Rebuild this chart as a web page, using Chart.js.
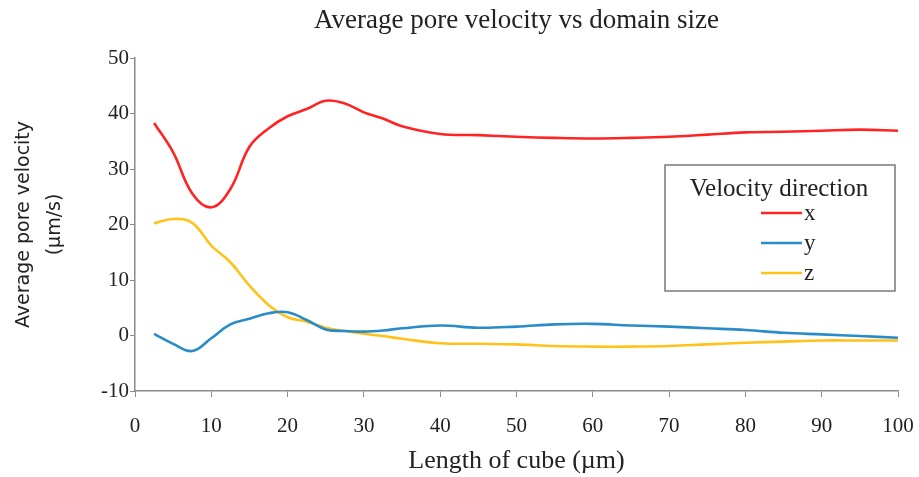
<!DOCTYPE html>
<html>
<head>
<meta charset="utf-8">
<script src="https://cdn.jsdelivr.net/npm/chart.js@4.4.1/dist/chart.umd.min.js"></script>
<style>
    html, body { margin: 0; background: #fff; }
    #wrap { width: 919px; height: 477px; }
</style>
</head>
<body>
<div id="wrap"><canvas id="poreChart"></canvas></div>
<script>
// cube length (µm) and average pore velocity (µm/s) per direction
const cubeLength = [2.5, 5, 7.5, 10, 12.5, 15, 17.5, 20, 22.5, 25, 27.5, 30, 32.5, 35, 40, 45, 50, 55, 60, 65, 70, 75, 80, 85, 90, 95, 100];
const velX = [38.3, 33, 25.6, 23.1, 26.4, 34, 37.3, 39.5, 40.8, 42.3, 41.8, 40.2, 39.1, 37.7, 36.3, 36.1, 35.8, 35.6, 35.5, 35.6, 35.8, 36.2, 36.6, 36.7, 36.9, 37.1, 36.9];
const velY = [0.3, -1.5, -2.8, -0.5, 2, 3, 4, 4.2, 2.8, 1.1, 0.8, 0.7, 0.9, 1.3, 1.8, 1.4, 1.6, 2, 2.1, 1.8, 1.6, 1.3, 1, 0.5, 0.2, -0.1, -0.4];
const velZ = [20.2, 21, 20.3, 16.2, 13.2, 9, 5.5, 3.3, 2.5, 1.4, 0.8, 0.3, -0.1, -0.6, -1.4, -1.5, -1.6, -1.9, -2, -2, -1.9, -1.6, -1.3, -1.1, -0.9, -0.9, -0.9];
const seriesNames = ['x', 'y', 'z'];
const seriesColors = ['#ff2424', '#2a8bc9', '#ffc21a'];

const serif = "'Liberation Serif', 'DejaVu Serif', serif";
const sans = "'DejaVu Sans', 'Open Sans', sans-serif";

function toPoints(vals) {
    return vals.map((v, i) => ({ x: cubeLength[i], y: v }));
}

// boxed legend inside the plot, like the original
const boxLegend = {
    id: 'boxLegend',
    afterDatasetsDraw(chart) {
        const { ctx, chartArea } = chart;
        const left = chartArea.right - 233, top = chartArea.top + 107;
        const w = 230, h = 126;
        ctx.save();
        ctx.fillStyle = '#fff';
        ctx.fillRect(left, top, w, h);
        ctx.strokeStyle = '#7a7a7a';
        ctx.lineWidth = 1.5;
        ctx.strokeRect(left, top, w, h);

        ctx.fillStyle = '#222';
        ctx.font = "25px " + serif;
        ctx.textAlign = 'center';
        ctx.textBaseline = 'middle';
        ctx.fillText('Velocity direction', left + w / 2 - 1, top + 24);

        ctx.textAlign = 'left';
        ctx.font = "23px " + serif;
        chart.data.datasets.forEach((ds, i) => {
            const yy = top + 48 + i * 30;
            ctx.strokeStyle = ds.borderColor;
            ctx.lineWidth = 2.5;
            ctx.beginPath();
            ctx.moveTo(left + 96, yy);
            ctx.lineTo(left + 137, yy);
            ctx.stroke();
            ctx.fillStyle = '#222';
            ctx.fillText(ds.label, left + 139, yy + 1);
        });
        ctx.restore();
    }
};

const ctx = document.getElementById('poreChart').getContext('2d');

new Chart(ctx, {
    type: 'line',
    data: {
        datasets: [velX, velY, velZ].map((vals, i) => ({
            label: seriesNames[i],
            data: toPoints(vals),
            borderColor: seriesColors[i],
            borderWidth: 2.6,
            tension: 0.4,
            pointRadius: 0,
            fill: false
        }))
    },
    options: {
        responsive: true,
        maintainAspectRatio: false,
        animation: false,
        layout: { padding: { left: 0, right: 21, top: 0, bottom: 0 } },
        plugins: {
            legend: { display: false },
            tooltip: { enabled: false },
            title: {
                display: true,
                text: 'Average pore velocity vs domain size',
                color: '#222',
                fullSize: false,
                font: { family: serif, size: 27, weight: 'normal', lineHeight: 1.2 },
                padding: { top: 5, bottom: 20.6 }
            }
        },
        scales: {
            x: {
                type: 'linear',
                min: 0,
                max: 100,
                afterFit(s) { s.height = 86; s.paddingRight = 0; s.paddingLeft = 0; },
                ticks: { stepSize: 10, color: '#222', padding: 17, maxRotation: 0, font: { family: serif, size: 21 } },
                grid: { drawOnChartArea: false, drawTicks: true, tickLength: 6, color: '#8a8a8a' },
                border: { display: true, color: '#8a8a8a', width: 1.5 },
                title: {
                    display: true,
                    text: 'Length of cube (µm)',
                    color: '#222',
                    font: { family: serif, size: 26 },
                    padding: { top: 0, bottom: 0 }
                }
            },
            y: {
                min: -10,
                max: 50,
                afterFit(s) { s.width = 135; },
                ticks: { stepSize: 10, color: '#222', padding: 1, font: { family: serif, size: 21 } },
                grid: { drawOnChartArea: false, drawTicks: true, tickLength: 5, color: '#8a8a8a' },
                border: { display: true, color: '#8a8a8a', width: 1.5 },
                title: {
                    display: true,
                    text: ['Average pore velocity', '(µm/s)'],
                    color: '#222',
                    font: { family: sans, size: 19, lineHeight: 1.65 },
                    padding: { top: 8, bottom: 0 }
                }
            }
        }
    },
    plugins: [boxLegend]
});
</script>
</body>
</html>
